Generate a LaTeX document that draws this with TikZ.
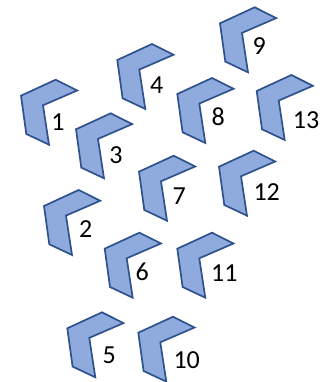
\documentclass[tikz,border=0pt]{standalone}
\usepackage{fontspec}
\setmainfont{Carlito}
\definecolor{chevfill}{HTML}{8FAADC}
\definecolor{chevline}{HTML}{2F528F}
\tikzset{
  chev/.style={draw=chevline, fill=chevfill, line width=1.7pt, line join=miter},
  num/.style={inner sep=0pt, font=\fontsize{26}{26}\selectfont}
}
\newcommand\chevron[2]{%
  \draw[chev] (#1,382-#2) -- ++(34.7,16) -- ++(21.5,-10.8) -- ++(-34.2,-14.8)
    -- ++(6,-39.4) -- ++(-22.7,10.7) -- cycle;}
\begin{document}
\begin{tikzpicture}[x=1pt,y=1pt]
\useasboundingbox (0,0) rectangle (325,382);
\chevron{21}{95.7}
\chevron{44}{206}
\chevron{76}{129.3}
\chevron{117.3}{60}
\chevron{67.3}{328.3}
\chevron{104.7}{248.7}
\chevron{139}{171.7}
\chevron{177.3}{94}
\chevron{220}{23.3}
\chevron{138.3}{332.7}
\chevron{177.3}{248.7}
\chevron{219}{166.7}
\chevron{256.7}{91}
\node[num] (n1) at (58,382-121.7) {1};
\node[num] (n2) at (85.7,382-229.3) {2};
\node[num] (n3) at (116,382-155) {3};
\node[num] (n4) at (156.7,382-85) {4};
\node[num] (n5) at (109.3,382-355) {5};
\node[num] (n6) at (142.3,382-271.7) {6};
\node[num] (n7) at (179.3,382-196) {7};
\node[num] (n8) at (218.3,382-116.7) {8};
\node[num] (n9) at (259.3,382-46) {9};
\node[num] (n10) at (186.7,382-360) {10};
\node[num] (n11) at (224.3,382-273.3) {11};
\node[num] (n12) at (266.7,382-191.7) {12};
\node[num] (n13) at (306,382-120) {13};
\end{tikzpicture}
\end{document}
